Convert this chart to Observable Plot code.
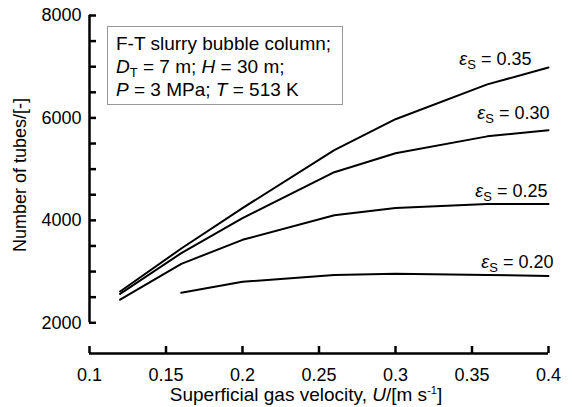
<!DOCTYPE html>
<html><head><meta charset="utf-8">
<script src="https://cdn.jsdelivr.net/npm/d3@7"></script>
<script src="https://cdn.jsdelivr.net/npm/@observablehq/plot@0.6"></script>
<style>
body{margin:0;background:#fff}
#chart svg{font-family:"Liberation Sans",Arial,Helvetica,sans-serif}
</style>
</head><body><div id="chart"></div>
<script>
// Data
const velocity = [0.12, 0.16, 0.20, 0.26, 0.30, 0.36, 0.40];
const tubes035 = [2610, 3450, 4240, 5370, 5975, 6655, 6985];
const tubes030 = [2565, 3360, 4045, 4940, 5310, 5640, 5760];
const tubes025 = [2450, 3150, 3620, 4100, 4240, 4320, 4320];
const velocity020 = [0.16, 0.20, 0.26, 0.30, 0.36, 0.40];
const tubes020 = [2585, 2800, 2935, 2955, 2935, 2915];
const seriesNames = ["0.35", "0.30", "0.25", "0.20"];
const labelY = [7030, 5975, 4455, 3070];
const labelDx = [-17, 1, -1, 5];
const xTicks = [0.1, 0.15, 0.2, 0.25, 0.3, 0.35, 0.4];
const yMinorTicks = [2000, 2500, 3000, 3500, 4000, 4500, 5000, 5500, 6000, 6500, 7000, 7500, 8000];
const yLabelTicks = [2000, 4000, 6000, 8000];

const rows = [];
[[velocity, tubes035, "0.35"], [velocity, tubes030, "0.30"], [velocity, tubes025, "0.25"], [velocity020, tubes020, "0.20"]]
  .forEach(([xs, ys, s]) => xs.forEach((x, i) => rows.push({x, y: ys[i], s})));
const labels = seriesNames.map((s, i) => ({s, x: 0.4, y: labelY[i]}));

const plot = Plot.plot({
  width: 572, height: 407,
  marginLeft: 89, marginRight: 24, marginTop: 15, marginBottom: 54,
  style: {fontSize: "18px", fontFamily: "'Liberation Sans', Arial, sans-serif", color: "#000", background: "#fff"},
  x: {domain: [0.1, 0.4]},
  y: {domain: [1400, 8000]},
  marks: [
    Plot.ruleX([0.1], {y1: 2000, y2: 8000, strokeWidth: 2.5}),
    Plot.ruleY([1400], {x1: 0.1, x2: 0.4, strokeWidth: 2.5}),
    Plot.axisY({ticks: yMinorTicks, tickSize: -7, strokeWidth: 2.5, tickFormat: () => "", label: null}),
    Plot.axisY({ticks: yLabelTicks, tickSize: 0, tickPadding: 8, tickFormat: d => String(d), label: null, fontSize: 18}),
    Plot.axisX({ticks: xTicks, tickSize: -7, strokeWidth: 2.5, tickFormat: () => "", label: null}),
    Plot.axisX({ticks: xTicks, tickSize: 0, tickPadding: 15, tickFormat: d => String(d), label: null, fontSize: 18}),
    Plot.line(rows, {x: "x", y: "y", z: "s", stroke: "#000", strokeWidth: 2}),
    Plot.text(labels, {x: "x", y: "y", text: d => "ε|" + d.s, textAnchor: "end", lineAnchor: "bottom", fontSize: 18, className: "elabel"})
  ]
});
document.getElementById("chart").appendChild(plot);

const svg = d3.select(plot);
svg.selectAll(".elabel text").each(function(d, i) {
  const t = d3.select(this);
  const raw = t.text();
  const val = raw.split("|")[1];
  t.text(null);
  t.attr("transform", (this.getAttribute("transform") || "") + ` translate(${labelDx[i]},0)`);
  t.append("tspan").attr("font-style", "italic").text("ε");
  t.append("tspan").attr("font-size", 13).attr("dy", 4).text("S");
  t.append("tspan").attr("dy", -4).text(" = " + val);
});

// axis titles
svg.append("text").attr("transform", "translate(26,175) rotate(-90)").attr("text-anchor", "middle")
  .attr("font-size", 18).text("Number of tubes/[-]");
const xl = svg.append("text").attr("x", 306).attr("y", 401).attr("text-anchor", "middle").attr("font-size", 19);
xl.append("tspan").text("Superficial gas velocity, ");
xl.append("tspan").attr("font-style", "italic").text("U");
xl.append("tspan").text("/[m s");
xl.append("tspan").attr("font-size", 11).attr("dy", -7).text("-1");
xl.append("tspan").attr("dy", 7).text("]");

// info box
const g = svg.append("g").attr("text-anchor", "start");
g.append("rect").attr("x", 107.5).attr("y", 26.5).attr("width", 235).attr("height", 78)
  .attr("fill", "#fff").attr("stroke", "#999").attr("stroke-width", 1);
g.append("text").attr("x", 116).attr("y", 50).attr("font-size", 19).text("F-T slurry bubble column;");
const l2 = g.append("text").attr("x", 116).attr("y", 73).attr("font-size", 19);
l2.append("tspan").attr("font-style", "italic").text("D");
l2.append("tspan").attr("font-size", 13).attr("dy", 4).text("T");
l2.append("tspan").attr("dy", -4).text(" = 7 m; ");
l2.append("tspan").attr("font-style", "italic").text("H");
l2.append("tspan").text(" = 30 m;");
const l3 = g.append("text").attr("x", 116).attr("y", 96).attr("font-size", 19);
l3.append("tspan").attr("font-style", "italic").text("P");
l3.append("tspan").text(" = 3 MPa; ");
l3.append("tspan").attr("font-style", "italic").text("T");
l3.append("tspan").text(" = 513 K");
</script>
</body></html>
